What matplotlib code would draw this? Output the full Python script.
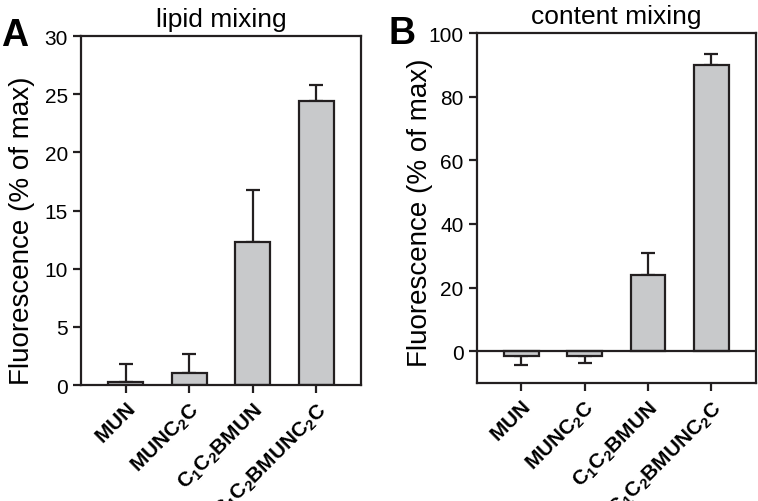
import matplotlib
matplotlib.use("Agg")
import matplotlib.pyplot as plt
import matplotlib.transforms as mtransforms
import numpy as np

plt.rcParams['font.family'] = ['Liberation Sans', 'DejaVu Sans']
plt.rcParams['mathtext.fontset'] = 'custom'
plt.rcParams['mathtext.rm'] = 'Liberation Sans'
plt.rcParams['mathtext.bf'] = 'Liberation Sans:bold'

# données
categories = ['$\\mathbf{MUN}$', '$\\mathbf{MUNC_2C}$',
              '$\\mathbf{C_1C_2BMUN}$', '$\\mathbf{C_1C_2BMUNC_2C}$']
lipid_vals = [0.3, 1.05, 12.3, 24.4]
lipid_err = [1.5, 1.65, 4.5, 1.4]
content_vals = [-1.6, -1.5, 24.0, 90.0]
content_err = [2.8, 2.3, 7.0, 3.5]

bar_color = '#c8c9cb'
edge = '#231f20'

fig = plt.figure(figsize=(7.58, 5.02), dpi=100)
axA = fig.add_axes([0.107, 0.231, 0.369, 0.695])
axB = fig.add_axes([0.629, 0.235, 0.368, 0.697])


def draw(ax, vals, errs, title, label_xy):
    x = np.arange(len(vals))
    # erreurs uniquement dans le sens de la barre
    lo = [e if v < 0 else 0 for v, e in zip(vals, errs)]
    hi = [e if v >= 0 else 0 for v, e in zip(vals, errs)]
    ax.bar(x, vals, width=0.55, color=bar_color, edgecolor=edge, linewidth=1.6, zorder=2)
    ax.errorbar(x, vals, yerr=[lo, hi], fmt='none', ecolor=edge, elinewidth=1.6,
                capsize=5, capthick=1.6, zorder=1)
    ax.set_xlim(-0.7, 3.7)
    ax.set_xticks(x)
    labels = ax.set_xticklabels(categories, rotation=45, ha='right', va='top',
                                rotation_mode='anchor', fontsize=13)
    off = mtransforms.ScaledTranslation(7 / 100, -2 / 100, fig.dpi_scale_trans)
    for t in labels:
        t.set_transform(t.get_transform() + off)
    for s in ax.spines.values():
        s.set_linewidth(1.6)
        s.set_color(edge)
    ax.tick_params(axis='both', direction='out', length=6, width=1.6, color=edge,
                   labelsize=15, top=False, right=False)
    ax.tick_params(axis='x', pad=4)
    ax.set_ylabel('Fluorescence (% of max)', fontsize=20, va='center')
    ax.yaxis.set_label_coords(*label_xy)
    ax.set_title(title, fontsize=19, pad=7)


draw(axA, lipid_vals, lipid_err, 'lipid mixing', (-0.21, 0.444))
axA.set_ylim(0, 30)
axA.set_yticks([0, 5, 10, 15, 20, 25, 30])

draw(axB, content_vals, content_err, 'content mixing', (-0.204, 0.489))
axB.set_ylim(-10, 100)
axB.set_yticks([0, 20, 40, 60, 80, 100])
axB.axhline(0, color=edge, linewidth=1.6, zorder=3)

fig.text(0.002, 0.908, 'A', fontsize=27, fontweight='bold', va='baseline')
fig.text(0.512, 0.912, 'B', fontsize=27, fontweight='bold', va='baseline')

fig.savefig('out.png', dpi=100)
